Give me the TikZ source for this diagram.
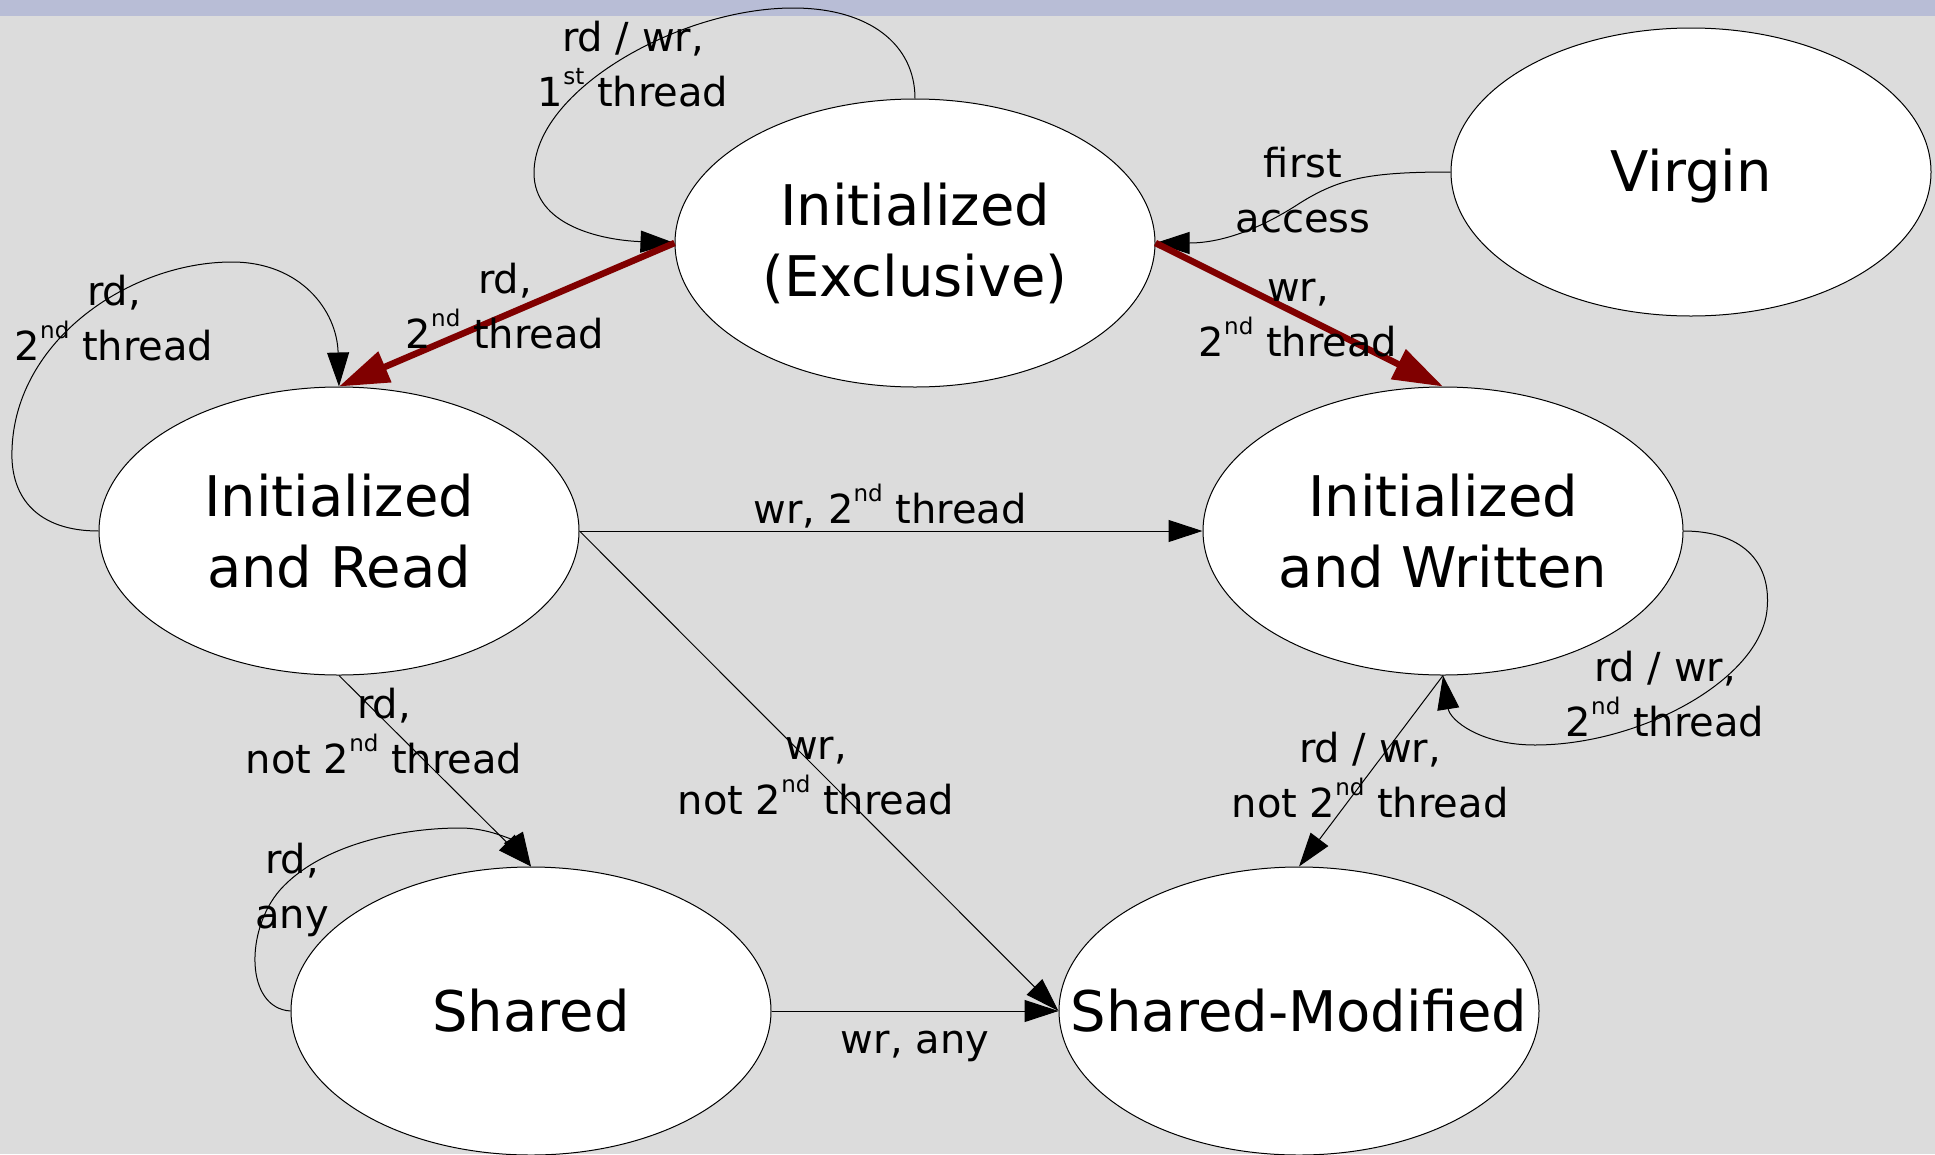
\documentclass[tikz,border=0pt]{standalone}
\usepackage{fontspec}
\setmainfont{DejaVu Sans}
\usepackage{tikz}
\usetikzlibrary{shapes.geometric, arrows.meta}
\definecolor{bggray}{RGB}{220,220,220}
\definecolor{barblue}{RGB}{184,189,214}
\definecolor{darkred}{RGB}{128,0,0}
\newcommand{\ordsup}[1]{\raisebox{0.55em}{\fontsize{23}{23}\selectfont #1}}
\tikzstyle{state} = [ellipse, draw, fill=white, line width=1pt, minimum width=480pt, minimum height=288pt, inner sep=0pt]
\tikzstyle{statetext} = [align=center, inner sep=0pt, font=\fontsize{56}{71}\selectfont]
\tikzstyle{trans} = [line width=1pt, -{Triangle[length=34pt,width=22pt]}]
\tikzstyle{hot} = [line width=6.5pt, draw=darkred, -{Triangle[length=50pt,width=32pt]}]
\tikzset{lbl/.style={align=center, inner sep=0pt, font=\fontsize{40}{55}\selectfont}}

\begin{document}
\begin{tikzpicture}[x=1pt, y=-1pt]
\fill[bggray] (0,0) rectangle (1935,1154);
\fill[barblue] (0,0) rectangle (1935,16);
\useasboundingbox (0,0) rectangle (1935,1154);

% states
\node[state, label={[statetext]center:Initialized\\(Exclusive)}] (excl) at (915,243) {};
\node[state, label={[statetext, yshift=-4pt]center:Virgin}] (virgin) at (1691,172) {};
\node[state, label={[statetext]center:Initialized\\and Read}] (read) at (339,531) {};
\node[state, label={[statetext]center:Initialized\\and Written}] (written) at (1443,531) {};
\node[state, label={[statetext]center:Shared}] (shared) at (531,1011) {};
\node[state, label={[statetext]center:Shared-Modified}] (sm) at (1299,1011) {};

%\draw[trans] (virgin) -- (excl);
\draw[trans] (virgin.west) .. controls (1370,172) and (1340,178) .. (1300,203) .. controls (1265,226) and (1225,243) .. (excl.east) node[lbl] at (1303,190) {first\\access};
\draw[trans] (excl.north) .. controls (915,45) and (870,8) .. (793,8) .. controls (680,8) and (534,90) .. (534,173) .. controls (534,225) and (600,240) .. (excl.west) node[lbl] at (633,64) {rd / wr,\\1\ordsup{st} thread};

% second thread shows up
\draw[hot] (excl.west) -- (read.north) node[lbl] at (505,306) {rd,\\2\ordsup{nd} thread};
\draw[hot] (excl.east) -- (written.north) node[lbl] at (1298,318) {wr,\\2\ordsup{nd} thread};

\draw[trans] (read.west) .. controls (40,531) and (10,500) .. (12,450) .. controls (15,340) and (130,262) .. (232,262) .. controls (300,262) and (337,310) .. (read.north) node[lbl] at (114,318) {rd,\\2\ordsup{nd} thread};
\draw[trans] (read.east) -- (written.west) node[lbl] at (890,506) {wr, 2\ordsup{nd} thread};
\draw[trans] (read.east) -- (sm.west) node[lbl] at (816,776) {wr,\\not 2\ordsup{nd} thread};
\draw[trans] (read.south) -- (shared.north) node[lbl] at (384,731) {rd,\\not 2\ordsup{nd} thread};

\draw[trans] (written.east) .. controls (1740,531) and (1772,560) .. (1767,610) .. controls (1760,680) and (1640,745) .. (1535,745) .. controls (1480,745) and (1450,720) .. (written.south) node[lbl] at (1665,694) {rd / wr,\\2\ordsup{nd} thread};
\draw[trans] (written.south) -- (sm.north) node[lbl] at (1370,775) {rd / wr,\\not 2\ordsup{nd} thread};

% shared
\draw[trans] (shared.west) .. controls (245,1008) and (245,930) .. (280,890) .. controls (320,845) and (400,828) .. (460,828) .. controls (495,828) and (518,845) .. (shared.north) node[lbl] at (292,890) {rd,\\any};
\draw[trans] (shared.east) -- (sm.west) node[lbl] at (915,1046) {wr, any};
\end{tikzpicture}
\end{document}
